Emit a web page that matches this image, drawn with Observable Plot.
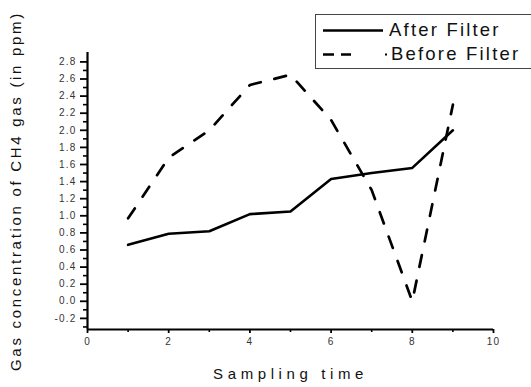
<!DOCTYPE html>
<html>
<head>
<meta charset="utf-8">
<script src="https://cdn.jsdelivr.net/npm/d3@7"></script>
<script src="https://cdn.jsdelivr.net/npm/@observablehq/plot@0.6"></script>
<style>
  html, body { margin: 0; padding: 0; background: #fff; }
  #wrap { position: relative; width: 531px; height: 387px; overflow: hidden; font-family: "Liberation Sans", Arial, sans-serif; }
  #wrap svg.chart { font-family: "Liberation Sans", Arial, sans-serif; }
  .chart [aria-label="y-axis tick label"] text,
  .chart [aria-label="x-axis tick label"] text { letter-spacing: 1.2px; fill: #333; }
  .chart [aria-label="x-axis label"] text { font-size: 15px; letter-spacing: 4.6px; fill: #111; }
  .chart [aria-label="y-axis label"] text { font-size: 15px; letter-spacing: 2.7px; fill: #111; }
  #legend { position: absolute; left: 315px; top: 14px; width: 240px; height: 55px; border: 1px solid #444; background: #fff; box-sizing: border-box; }
  #legend .item { position: absolute; left: 0; font-size: 18.5px; letter-spacing: 2.2px; color: #111; white-space: nowrap; }
  #legend svg { position: absolute; left: 0; top: 0; }
</style>
</head>
<body>
<div id="wrap"></div>
<script>
// ---- data ----
const samplingTime = [1, 2, 3, 4, 5, 6, 7, 8, 9];
const afterFilter  = [0.66, 0.79, 0.82, 1.02, 1.05, 1.43, 1.50, 1.56, 2.00];
const beforeFilter = [0.97, 1.68, 2.00, 2.53, 2.65, 2.12, 1.30, 0.00, 2.30];
const seriesNames = ["After Filter", "Before Filter"];
const xTickValues = [0, 2, 4, 6, 8, 10];
const xMinorTicks = [1, 3, 5, 7, 9];
const yTickValues = [-0.2, 0.0, 0.2, 0.4, 0.6, 0.8, 1.0, 1.2, 1.4, 1.6, 1.8, 2.0, 2.2, 2.4, 2.6, 2.8];
const yMinorTicks = [-0.3, -0.1, 0.1, 0.3, 0.5, 0.7, 0.9, 1.1, 1.3, 1.5, 1.7, 1.9, 2.1, 2.3, 2.5, 2.7];
const xLabel = "Sampling time";
const yLabel = "Gas concentration of CH4 gas (in ppm)";

const afterData = samplingTime.map((t, i) => ({t, v: afterFilter[i]}));
const beforeData = samplingTime.map((t, i) => ({t, v: beforeFilter[i]}));

const yMin = -0.33, yMax = 2.91;

const chart = Plot.plot({
  width: 531,
  height: 387,
  marginLeft: 87,
  marginRight: 38,
  marginTop: 52,
  marginBottom: 58,
  style: {fontFamily: "Liberation Sans, Arial, sans-serif", background: "#fff"},
  x: {domain: [0, 10]},
  y: {domain: [yMin, yMax]},
  marks: [
    Plot.axisY({ticks: yMinorTicks, tickSize: 4, tickFormat: () => "", label: null, strokeWidth: 1.6}),
    Plot.axisY({ticks: yTickValues, tickSize: 7, tickPadding: 4, tickFormat: d => d.toFixed(1), fontSize: 10, label: null, strokeWidth: 1.8}),
    Plot.axisY({ticks: [], label: yLabel, labelAnchor: "center", labelOffset: 77, labelArrow: "none"}),
    Plot.axisX({ticks: xMinorTicks, tickSize: 3, tickFormat: () => "", label: null, strokeWidth: 1.6}),
    Plot.axisX({ticks: xTickValues, tickSize: 4, tickPadding: 4, tickFormat: d => String(d), fontSize: 10, label: null, strokeWidth: 1.8}),
    Plot.axisX({ticks: [], label: xLabel, labelAnchor: "center", labelOffset: 49, labelArrow: "none"}),
    Plot.ruleX([0], {y1: yMin, y2: yMax, stroke: "#000", strokeWidth: 2.2}),
    Plot.ruleY([yMin], {x1: 0, x2: 10, stroke: "#000", strokeWidth: 2.2}),
    Plot.line(beforeData, {x: "t", y: "v", stroke: "#000", strokeWidth: 2.7, strokeDasharray: "12,14"}),
    Plot.line(afterData, {x: "t", y: "v", stroke: "#000", strokeWidth: 2.6})
  ]
});
chart.classList.add("chart");
const wrap = document.getElementById("wrap");
wrap.appendChild(chart);

// legend overlay
const legend = document.createElement("div");
legend.id = "legend";
legend.innerHTML = `
  <svg width="80" height="54">
    <line x1="7" x2="67" y1="15.5" y2="15.5" stroke="#000" stroke-width="2.4"/>
    <line x1="7" x2="35" y1="39.5" y2="39.5" stroke="#000" stroke-width="2.4" stroke-dasharray="11,7"/>
    <line x1="69" x2="71" y1="39.5" y2="39.5" stroke="#000" stroke-width="2"/>
  </svg>
  <div class="item" style="left:73px; top:4px;">${seriesNames[0]}</div>
  <div class="item" style="left:75px; top:28px;">${seriesNames[1]}</div>`;
wrap.appendChild(legend);
</script>
</body>
</html>
